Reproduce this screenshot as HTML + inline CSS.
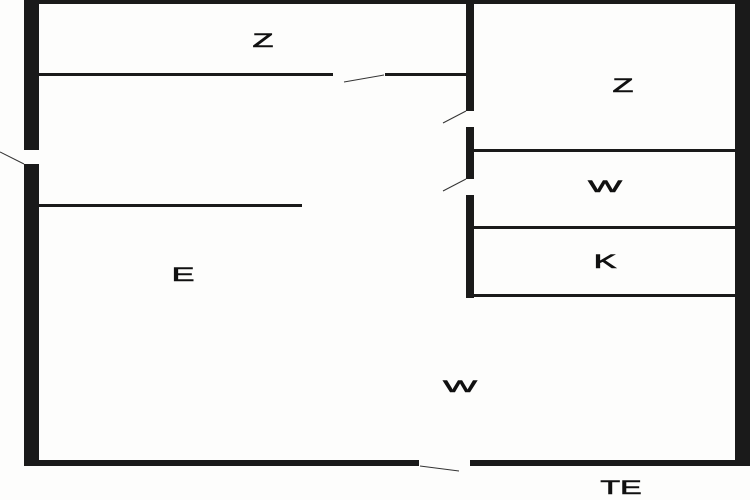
<!DOCTYPE html>
<html><head><meta charset="utf-8"><style>html,body{margin:0;padding:0;background:#fdfdfc;}svg{display:block}</style></head>
<body>
<svg width="750" height="500" viewBox="0 0 750 500" xmlns="http://www.w3.org/2000/svg">
<rect width="750" height="500" fill="#fdfdfc"/>
<g fill="#1a1a1a">
<rect x="24" y="0" width="726" height="4"/>
<rect x="24" y="0" width="15" height="150"/>
<rect x="24" y="164" width="15" height="302"/>
<rect x="735" y="0" width="15" height="466"/>
<rect x="24" y="460" width="395" height="6"/>
<rect x="470" y="460" width="280" height="6"/>
<rect x="466" y="0" width="8" height="111"/>
<rect x="466" y="127" width="8" height="52"/>
<rect x="466" y="195" width="8" height="103"/>
<rect x="38" y="73" width="295" height="3"/>
<rect x="385" y="73" width="81" height="3"/>
<rect x="38" y="204" width="264" height="3"/>
<rect x="474" y="149" width="261" height="3"/>
<rect x="474" y="226" width="261" height="3"/>
<rect x="474" y="294" width="261" height="3"/>
</g>
<g stroke="#333" stroke-width="1" fill="none">
<line x1="344" y1="82" x2="384" y2="75"/>
<line x1="443" y1="123" x2="466" y2="111"/>
<line x1="443" y1="191" x2="466" y2="179"/>
<line x1="0" y1="152" x2="24" y2="164"/>
<line x1="420" y1="466" x2="459" y2="471"/>
</g>
<g font-family="Liberation Sans, sans-serif" font-size="19" fill="#111" stroke="#111" stroke-width="0.6" text-anchor="middle">
<text transform="translate(263,47) scale(1.8,1)">Z</text>
<text transform="translate(623,92) scale(1.8,1)">Z</text>
<text transform="translate(605,192) scale(1.9,0.85)">W</text>
<text transform="translate(605,268) scale(1.8,1)">K</text>
<text transform="translate(183,281) scale(1.8,1)">E</text>
<text transform="translate(460,392) scale(1.9,0.85)">W</text>
<text transform="translate(621,494) scale(1.7,1)">TE</text>
</g>
</svg>
</body></html>
